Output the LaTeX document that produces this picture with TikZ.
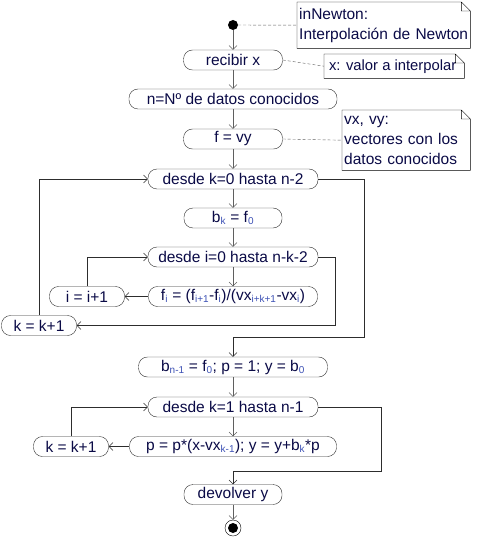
\documentclass[tikz,border=0pt]{standalone}
\usepackage{fontspec}
\setmainfont{Liberation Sans}
\usetikzlibrary{positioning,arrows.meta}
\definecolor{textnavy}{RGB}{10,10,70}
\definecolor{subblue}{RGB}{60,80,180}
\definecolor{flowgray}{RGB}{95,95,95}
\definecolor{loopgray}{RGB}{45,45,45}
\newcommand{\ix}[1]{\textsubscript{\textcolor{subblue}{\fontsize{10}{10}\selectfont #1}}}

\begin{document}
\begin{tikzpicture}[x=1pt,y=-1pt,on grid,
font=\fontsize{15.5}{20}\selectfont,
act/.style ={rectangle ,rounded corners =9pt ,draw =loopgray ,text =textnavy ,
 minimum height =20pt ,inner sep =1pt},
note/.style ={rectangle ,anchor =north west ,align =left ,text =textnavy ,inner sep =2pt},
flow/.style ={draw =flowgray ,-{Straight Barb[length=4pt,width=8pt]}},
back/.style ={draw =loopgray ,-{Straight Barb[length=4pt,width=8pt]}},
link/.style ={draw =flowgray ,dash pattern =on 3pt off 2pt}]
\useasboundingbox (0,0) rectangle (479,537);
% start and main column
\node[circle ,fill =black ,inner sep =0pt ,minimum size =10pt] (start) at (233,25) {};
\node[act ,minimum width =99pt] (recibir) [below = 35pt of start] {recibir x};
\node[act ,minimum width =208pt] (datos) [below = 39pt of recibir] {n=Nº de datos conocidos};
\node[act ,minimum width =99pt] (fvy) [below = 40pt of datos] {f = vy};
\node[act ,minimum width =170pt] (desdek) [below = 40pt of fvy] {desde k=0 hasta n-2};
\node[act ,minimum width =98pt] (bk) [below = 39pt of desdek] {b\ix{k} = f\ix{0}};
\node[act ,minimum width =170pt] (desdei) [below = 39pt of bk] {desde i=0 hasta n-k-2};
\node[act ,minimum width =169pt] (fi) [below = 39.5pt of desdei]
 {f\ix{i} = (f\ix{i+1}-f\ix{i})/(vx\ix{i+k+1}-vx\ix{i})};
\node[act ,minimum width =75pt] (inc) [left = 146pt of fi] {i = i+1};
\node[act ,minimum width =75pt] (kinc) [below left = 29pt and 194pt of fi] {k = k+1};
\node[act ,minimum width =189pt] (bn) [below = 70.5pt of fi] {b\ix{n-1} = f\ix{0}; p = 1; y = b\ix{0}};
\node[act ,minimum width =170pt] (desdek2) [below = 40pt of bn] {desde k=1 hasta n-1};
\node[act ,minimum width =207pt] (prod) [below = 39.5pt of desdek2]
 {p = p*(x-vx\ix{k-1}); y = y+b\ix{k}*p};
\node[act ,minimum width =75pt] (kinc2) [left = 162pt of prod] {k = k+1};
\node[act ,minimum width =98pt] (dev) [below = 48pt of prod] {devolver y};
\node[circle ,draw =black ,fill =white ,inner sep =0pt ,minimum size =16pt] (stop) [below = 33.5pt of dev] {};
\node[circle ,fill =black ,inner sep =0pt ,minimum size =10pt] at (stop) {};
% notes
\node[note ,text width =169pt ,minimum height =46pt] (n1) at (297,2) {inNewton:\\Interpolación de Newton};
\node[note ,minimum width =140pt ,minimum height =24pt ,font =\fontsize{14.8}{18}\selectfont] (n2) at (324,54) {x: valor a interpolar\hspace{3pt}};
\node[note ,text width =124pt ,minimum height =60pt] (n3) at (342,110) {vx, vy:\\vectores con los\\datos conocidos};
\foreach \n in {n1,n2,n3}
 \draw[black] (\n.north west) -- ([xshift=-9pt]\n.north east) -- ([yshift=-9pt]\n.north east)
 -- (\n.south east) -- (\n.south west) -- cycle
 ([xshift=-9pt]\n.north east) |- ([yshift=-9pt]\n.north east);
\draw[link] (start) -- (n1.west);
\draw[link] (recibir.east) -- (n2.west);
\draw[link] (fvy.east) -- (n3.west);
% flow
\draw[flow] (start) -- (recibir);
\draw[flow] (recibir) -- (datos);
\draw[flow] (datos) -- (fvy);
\draw[flow] (fvy) -- (desdek);
\draw[flow] (desdek) -- (bk);
\draw[flow] (bk) -- (desdei);
\draw[flow] (desdei) -- (fi);
\draw[back] (fi) -- (inc);
\draw[back] (inc.north) |- (desdei.west);
\draw[back] (desdei.east) -- ++(17,0) |- (kinc.east);
\draw[back] (kinc.north) |- (desdek.west);
\coordinate (r1) at (364,337);
\draw[back] (desdek.east) -| (r1) -| (bn.north);
\draw[flow] (bn) -- (desdek2);
\draw[flow] (desdek2) -- (prod);
\draw[back] (prod) -- (kinc2);
\draw[back] (kinc2.north) |- (desdek2.west);
\coordinate (r2) at (381,471);
\draw[back] (desdek2.east) -| (r2) -| (dev.north);
\draw[flow] (dev) -- (stop);
\end{tikzpicture}
\end{document}
